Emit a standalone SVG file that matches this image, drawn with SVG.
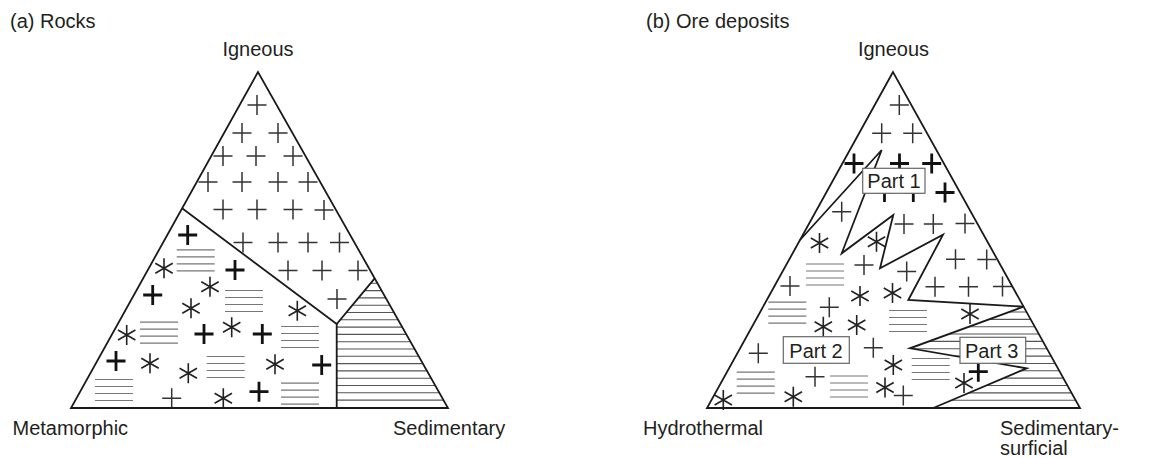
<svg xmlns="http://www.w3.org/2000/svg" width="1153" height="458" viewBox="0 0 1153 458">
<style>
text{font-family:"Liberation Sans",Arial,sans-serif;font-size:20px;fill:#231f20}
.edge{fill:none;stroke:#1a1a1a;stroke-width:1.8;stroke-linejoin:miter}
.hl{fill:none;stroke:#555;stroke-width:1.1}
.box{fill:#fff;stroke:#666;stroke-width:1.2}
</style>
<defs>
<path id="p" d="M-9.5 0H9.5M0-10V10" stroke="#333" stroke-width="1.5"/>
<path id="pb" d="M-9.5 0H9.5M0-10V10" stroke="#111" stroke-width="2.8"/>
<path id="a" d="M0-10V10M-8.7-5L8.7 5M-8.7 5L8.7-5" stroke="#222" stroke-width="1.6"/>
<path id="h" d="M0 0.5H38M0 7.5H38M0 14.5H38M0 21.5H38" stroke="#777" stroke-width="1.2"/>
<clipPath id="cs"><polygon points="336.7,324 374.7,278.3 448,408 336.7,408"/></clipPath>
<clipPath id="c3"><polygon points="1023.6,306.7 910,348.3 1026.7,368.3 933.3,408 1080,408"/></clipPath>
</defs>

<g id="title-a"><text x="10" y="28">(a) Rocks</text></g>
<g id="title-b"><text x="646" y="28">(b) Ore deposits</text></g>

<!-- Panel (a) -->
<g id="a-igneous">
<text x="258" y="56" text-anchor="middle">Igneous</text>
<use href="#p" x="257" y="105"/>
<use href="#p" x="242" y="133"/><use href="#p" x="278" y="133"/>
<use href="#p" x="223" y="156"/><use href="#p" x="256" y="156"/><use href="#p" x="293" y="156"/>
<use href="#p" x="208" y="182"/><use href="#p" x="242" y="182"/><use href="#p" x="278" y="182"/><use href="#p" x="308" y="182"/>
<use href="#p" x="223" y="209.5"/><use href="#p" x="257" y="209.5"/><use href="#p" x="293" y="209.5"/><use href="#p" x="324" y="210"/>
<use href="#p" x="243" y="242.5"/><use href="#p" x="278" y="242.5"/><use href="#p" x="308" y="242.5"/><use href="#p" x="339.5" y="242.5"/>
<use href="#p" x="288" y="270.5"/><use href="#p" x="322" y="270.5"/><use href="#p" x="358" y="270.5"/>
<use href="#p" x="337" y="299"/>
</g>
<g id="a-metamorphic">
<text x="12.5" y="435">Metamorphic</text>
<use href="#pb" x="187.7" y="235"/><use href="#pb" x="235" y="270"/><use href="#pb" x="152.7" y="295"/>
<use href="#pb" x="204" y="334"/><use href="#pb" x="262.3" y="334"/><use href="#pb" x="116" y="361"/>
<use href="#pb" x="321.7" y="365"/><use href="#pb" x="259" y="391.7"/>
<use href="#p" x="171.7" y="398.3"/>
<use href="#a" x="164" y="268.3"/><use href="#a" x="210" y="286.7"/><use href="#a" x="191" y="308.3"/>
<use href="#a" x="297.3" y="310.7"/><use href="#a" x="126.7" y="335"/><use href="#a" x="231.7" y="327.3"/>
<use href="#a" x="150" y="363.3"/><use href="#a" x="188.3" y="373.3"/><use href="#a" x="275" y="364.3"/>
<use href="#a" x="223.3" y="398.3"/>
<use href="#h" x="176.7" y="249.3"/><use href="#h" x="225" y="290"/><use href="#h" x="140" y="321.7"/>
<use href="#h" x="281" y="326"/><use href="#h" x="206.7" y="356"/><use href="#h" x="95" y="379"/>
<use href="#h" x="281" y="382.7"/>
</g>
<g id="a-sedimentary">
<text x="393" y="435">Sedimentary</text>
<path class="hl" clip-path="url(#cs)" d="M330 283.3H450M330 290.6H450M330 297.9H450M330 305.2H450M330 312.5H450M330 319.8H450M330 327.1H450M330 334.4H450M330 341.7H450M330 349H450M330 356.3H450M330 363.6H450M330 370.9H450M330 378.2H450M330 385.5H450M330 392.8H450M330 400.1H450"/>
</g>

<!-- Panel (b) -->
<g id="b-part3">
<path class="hl" clip-path="url(#c3)" d="M900 312H1085M900 319.35H1085M900 326.7H1085M900 334.05H1085M900 341.4H1085M900 348.75H1085M900 356.1H1085M900 363.45H1085M900 370.8H1085M900 378.15H1085M900 385.5H1085M900 392.85H1085M900 400.2H1085"/>
</g>
<g id="b-part1">
<text x="893.5" y="56" text-anchor="middle">Igneous</text>
<use href="#p" x="899.3" y="105"/>
<use href="#p" x="881.7" y="133.3"/><use href="#p" x="912.7" y="133.3"/>
<use href="#pb" x="854" y="163.5"/><use href="#pb" x="899.5" y="163.5"/><use href="#pb" x="931.7" y="163.5"/>
<use href="#pb" x="884.5" y="192"/><use href="#pb" x="913.3" y="192"/><use href="#pb" x="945" y="192.5"/>
<use href="#p" x="904" y="224"/><use href="#p" x="933.3" y="224"/><use href="#p" x="965" y="223.5"/>
<use href="#p" x="955.5" y="259.3"/><use href="#p" x="986.7" y="259.5"/>
<use href="#p" x="935" y="286.7"/><use href="#p" x="968.5" y="286.7"/><use href="#p" x="1002.5" y="286.5"/>
</g>
<g id="b-part2">
<text x="643" y="435">Hydrothermal</text>
<use href="#p" x="841.7" y="211.7"/><use href="#p" x="864" y="265"/><use href="#p" x="790" y="286"/>
<use href="#p" x="906.7" y="271.5"/><use href="#p" x="829.3" y="307.3"/><use href="#p" x="758.3" y="353.3"/>
<use href="#p" x="873.3" y="347.7"/><use href="#p" x="815" y="376.7"/><use href="#p" x="903.3" y="395.5"/>
<use href="#pb" x="978.3" y="371.7"/>
<use href="#a" x="819.5" y="243"/><use href="#a" x="876.5" y="241.7"/><use href="#a" x="860" y="296"/>
<use href="#a" x="892.5" y="293"/><use href="#a" x="823.3" y="326.7"/><use href="#a" x="856.7" y="325"/>
<use href="#a" x="970" y="314"/><use href="#a" x="893.3" y="365"/><use href="#a" x="885" y="387.5"/>
<use href="#a" x="723.3" y="400"/><use href="#a" x="793.3" y="396.7"/><use href="#a" x="964" y="383"/>
<use href="#h" x="806" y="263.5"/><use href="#h" x="768.3" y="301.7"/><use href="#h" x="889" y="310"/>
<use href="#h" x="736.7" y="371.7"/><use href="#h" x="830" y="375.5"/><use href="#h" x="911.7" y="358"/>
</g>
<g id="b-sedimentary-label">
<text x="1000" y="435">Sedimentary-</text>
<text x="1000" y="455">surficial</text>
</g>

<g id="connectors">
<polygon class="edge" points="258,72 71,408 448,408"/>
<polyline class="edge" points="182.1,208.3 336.7,324 374.7,278.3"/>
<line class="edge" x1="336.7" y1="324" x2="336.7" y2="408"/>
<polygon class="edge" points="893,72 707,408 1080,408"/>
<polyline class="edge" points="800,240 881.7,150 841.7,253.3 893.3,215 880,268.3 943,234.7 908.3,300 1023.6,306.7 910,348.3 1026.7,368.3 933.3,408"/>
</g>

<g id="label-part1"><rect class="box" x="862.7" y="168.3" width="62.3" height="25"/><text x="867.3" y="188.3">Part 1</text></g>
<g id="label-part2"><rect class="box" x="783.3" y="336.7" width="66" height="26.6"/><text x="789.3" y="357.7">Part 2</text></g>
<g id="label-part3"><rect class="box" x="960" y="337.3" width="65.7" height="26"/><text x="965" y="358.3">Part 3</text></g>
</svg>
